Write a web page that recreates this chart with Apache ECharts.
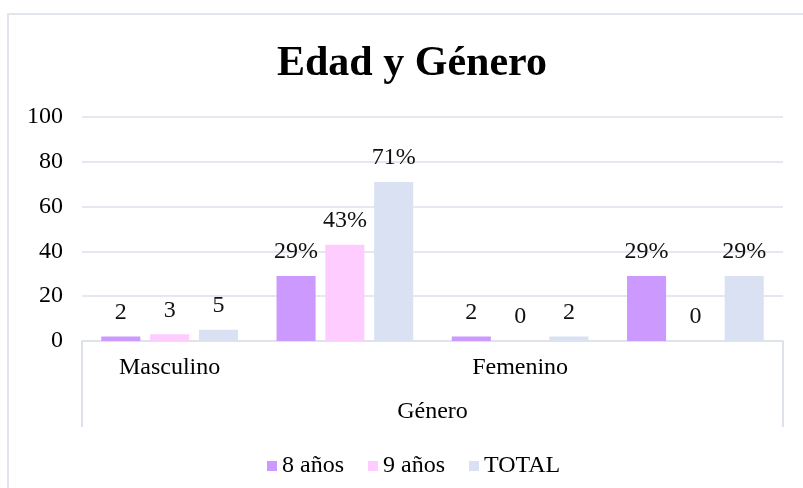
<!DOCTYPE html>
<html>
<head>
<meta charset="utf-8">
<script src="https://cdn.jsdelivr.net/npm/echarts@6/dist/echarts.min.js"></script>
<style>
html,body{margin:0;padding:0;background:#fff;}
#c{width:803px;height:488px;}
</style>
</head>
<body>
<div id="c"></div>
<script>
const categories = ['Masculino', '', 'Femenino', ''];
const isPercent = [false, true, false, true];
const outerCategory = ['Género'];
const seriesNames = ['8 años', '9 años', 'TOTAL'];
const eightYears = [2, 29, 2, 29];
const nineYears = [3, 43, 0, 0];
const total = [5, 71, 2, 29];
const yTicks = { min: 0, max: 100, interval: 20 };

const FONT = '"Liberation Serif", "Times New Roman", serif';
const colors = ['#CC99FF', '#FFCCFF', '#D9E1F2'];
const lineColor = '#dde2ea';

const chart = echarts.init(document.getElementById('c'), null, { renderer: 'canvas' });

function mkSeries(name, data, color) {
  return {
    name: name,
    type: 'bar',
    data: data,
    xAxisIndex: 0,
    barGap: '25%',
    barCategoryGap: '22%',
    itemStyle: { color: color },
    label: {
      show: true,
      position: 'top',
      distance: 12,
      color: '#111',
      fontFamily: FONT,
      fontSize: 24,
      formatter: p => (isPercent[p.dataIndex] && p.value !== 0) ? p.value + '%' : String(p.value)
    }
  };
}

chart.setOption({
  animation: false,
  backgroundColor: '#fff',
  title: {
    text: 'Edad y Género',
    left: 272,
    top: 38,
    textStyle: { fontFamily: FONT, fontWeight: 'bold', fontSize: 42, color: '#000' }
  },
  legend: {
    data: seriesNames,
    left: 262,
    top: 449,
    itemWidth: 10,
    itemHeight: 10,
    itemGap: 24,
    icon: 'rect',
    textStyle: { fontFamily: FONT, fontSize: 24, color: '#000' }
  },
  grid: { left: 82, right: 20, top: 117, bottom: 147, containLabel: false },
  xAxis: [
    {
      type: 'category',
      data: categories,
      position: 'bottom',
      axisLine: { show: true, lineStyle: { color: lineColor, width: 1.5 } },
      axisTick: { show: false },
      axisLabel: { fontFamily: FONT, fontSize: 24, color: '#000', margin: 15, interval: 0 }
    },
    {
      type: 'category',
      data: outerCategory,
      position: 'bottom',
      axisLine: { show: false },
      axisTick: { show: true, length: 86, lineStyle: { color: lineColor, width: 2 } },
      axisLabel: { fontFamily: FONT, fontSize: 24, color: '#000', margin: 59 },
      splitLine: { show: false }
    }
  ],
  yAxis: {
    type: 'value',
    min: yTicks.min,
    max: yTicks.max,
    interval: yTicks.interval,
    axisLine: { show: false },
    axisTick: { show: false },
    axisLabel: { fontFamily: FONT, fontSize: 24, color: '#000', margin: 19 },
    splitLine: { lineStyle: { color: lineColor, width: 1.5 } }
  },
  graphic: [
    {
      type: 'rect',
      shape: { x: 8, y: 14, width: 820, height: 500 },
      style: { fill: 'none', stroke: '#e1e5ec', lineWidth: 2 },
      silent: true
    }
  ],
  series: [
    mkSeries(seriesNames[0], eightYears, colors[0]),
    mkSeries(seriesNames[1], nineYears, colors[1]),
    mkSeries(seriesNames[2], total, colors[2])
  ]
});
</script>
</body>
</html>
